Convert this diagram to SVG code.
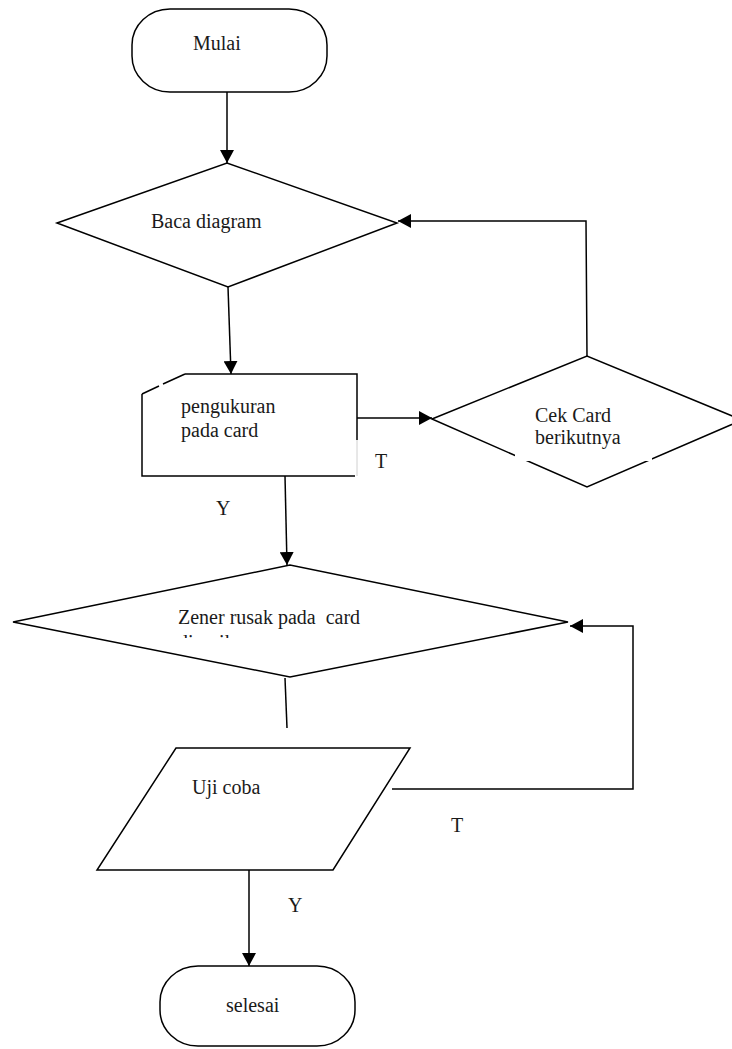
<svg xmlns="http://www.w3.org/2000/svg" width="732" height="1049" viewBox="0 0 732 1049">
<style>
.s{fill:#fff;stroke:#000;stroke-width:1.5}
.l{fill:none;stroke:#000;stroke-width:1.5}
.t{font-family:"Liberation Serif","Times New Roman",serif;font-size:20px;fill:#1a1a1a}
</style>
<defs>
<marker id="ah" markerUnits="userSpaceOnUse" markerWidth="14" markerHeight="14" viewBox="0 0 14 14" refX="13" refY="7" orient="auto">
<path d="M0,0 L13,7 L0,14 Z" fill="#000"/>
</marker>
<clipPath id="clipZ"><rect x="0" y="560" width="732" height="78"/></clipPath>
</defs>
<rect width="732" height="1049" fill="#fff"/>
<g id="connectors">
<line class="l" x1="227" y1="92" x2="227" y2="163" marker-end="url(#ah)"/>
<line class="l" x1="228" y1="287" x2="231" y2="374" marker-end="url(#ah)"/>
<line class="l" x1="357" y1="418" x2="432" y2="418" marker-end="url(#ah)"/>
<polyline class="l" points="587,357 586,221 398,221" marker-end="url(#ah)"/>
<line class="l" x1="285" y1="476" x2="287" y2="565" marker-end="url(#ah)"/>
<line class="l" x1="285" y1="678" x2="287" y2="728"/>
<polyline class="l" points="392,789 633,789 633,626 570,626" marker-end="url(#ah)"/>
<line class="l" x1="249" y1="870" x2="249" y2="966" marker-end="url(#ah)"/>
</g>
<g id="mulai">
<rect class="s" x="132" y="9" width="195" height="83" rx="38" ry="36"/>
<text class="t" x="193" y="50">Mulai</text>
</g>
<g id="baca">
<polygon class="s" points="57,223 227,163 397,223 228,287"/>
<text class="t" x="151" y="228">Baca diagram</text>
</g>
<g id="pengukuran">
<path d="M185,374 L357,374 L357,476 L142,476 L142,394 Z" fill="#fff"/>
<path class="l" d="M357,440 L357,374 L185,374 M142,394 L142,476 L355,476"/>
<path class="l" d="M142,394 L159,386 M163,384 L185,374"/>
<line x1="357" y1="440" x2="357" y2="476" stroke="#d0d0d0" stroke-width="1"/>
<text class="t" x="181" y="413">pengukuran</text>
<text class="t" x="181" y="437">pada card</text>
</g>
<g id="cek">
<polygon class="s" points="432,419 587,356 742,420 587,487"/>
<rect x="515" y="394" width="137" height="67" fill="#fff"/>
<text class="t" x="535" y="422">Cek Card</text>
<text class="t" x="535" y="444">berikutnya</text>
</g>
<g id="zener">
<polygon class="s" points="13,622 290,565 568,622 290,677"/>
<text class="t" x="178" y="624" xml:space="preserve">Zener rusak pada  card</text>
<text class="t" x="178" y="649" clip-path="url(#clipZ)">diperiksa</text>
</g>
<g id="uji">
<polygon class="s" points="176,748 410,748 333,870 97,870"/>
<text class="t" x="192" y="794">Uji coba</text>
</g>
<g id="labels">
<text class="t" x="375" y="468">T</text>
<text class="t" x="216" y="515">Y</text>
<text class="t" x="451" y="832">T</text>
<text class="t" x="288" y="912">Y</text>
</g>
<g id="selesai">
<rect class="s" x="160" y="966" width="195" height="80" rx="38" ry="36"/>
<text class="t" x="226" y="1012">selesai</text>
</g>
</svg>
